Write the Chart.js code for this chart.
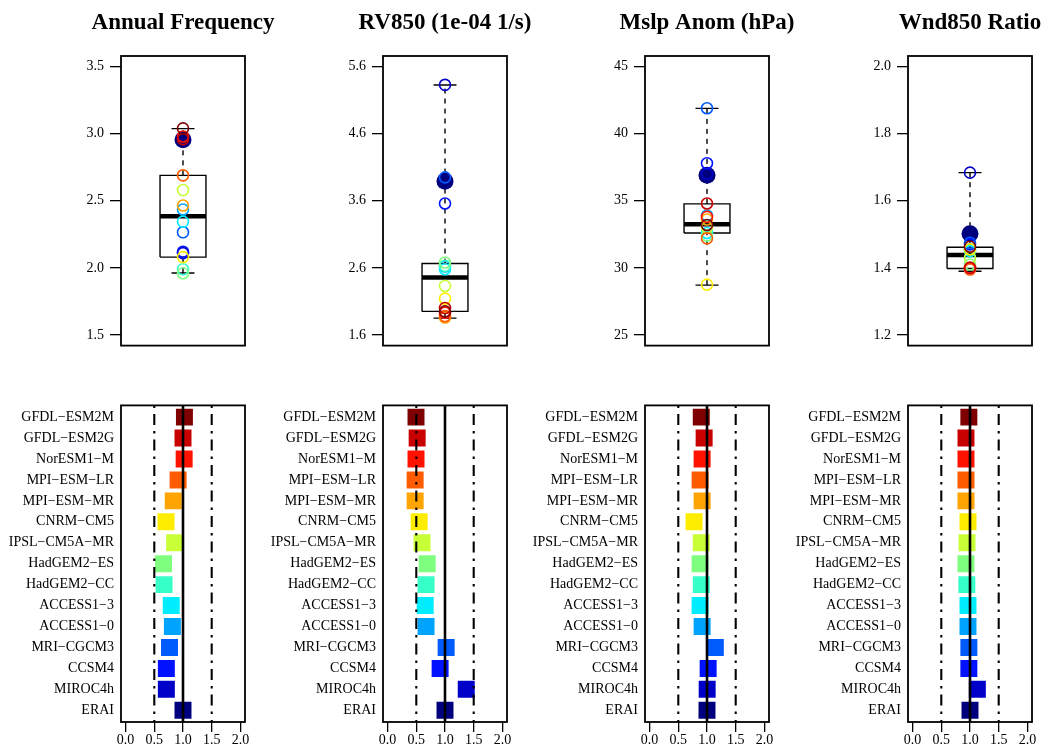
<!DOCTYPE html>
<html>
<head>
<meta charset="utf-8">
<script src="https://cdn.jsdelivr.net/npm/chart.js@4.4.1/dist/chart.umd.min.js"></script>
<style>
  html, body { margin: 0; padding: 0; background: #fff; }
  #wrap { position: relative; width: 1048px; height: 748px; overflow: hidden; background: #fff; }
  .cv { position: absolute; }
</style>
</head>
<body>
<div id="wrap"></div>
<script>
// ---------------- DATA ----------------
const modelNames = ["GFDL\u2212ESM2M", "GFDL\u2212ESM2G", "NorESM1\u2212M", "MPI\u2212ESM\u2212LR", "MPI\u2212ESM\u2212MR",
  "CNRM\u2212CM5", "IPSL\u2212CM5A\u2212MR", "HadGEM2\u2212ES", "HadGEM2\u2212CC", "ACCESS1\u22123", "ACCESS1\u22120",
  "MRI\u2212CGCM3", "CCSM4", "MIROC4h"];
const referenceName = "ERAI";
const modelColors = ["#7F0000", "#C80000", "#FF1200", "#FF5B00", "#FFA400", "#FFED00", "#C8FF36", "#7FFF7F",
  "#36FFC8", "#00EDFF", "#00A4FF", "#005BFF", "#0012FF", "#0000C8"];
const referenceColor = "#00007F";
const panelTitles = ["Annual Frequency", "RV850 (1e-04 1/s)", "Mslp Anom (hPa)", "Wnd850 Ratio"];

// Annual Frequency
const freqModel = [3.04, 2.96, 2.98, 2.69, 2.465, 2.08, 2.58, 1.96, 1.99, 2.345, 2.435, 2.265, 2.12, 2.11];
const freqERAI = 2.955;
const freqBox = [1.962, 2.08, 2.384, 2.69, 3.038];        // lower whisker, Q1, median, Q3, upper whisker
const freqTickLabels = ["1.5", "2.0", "2.5", "3.0", "3.5"];
const freqRatio = [1.025, 1.0, 1.02, 0.915, 0.83, 0.705, 0.855, 0.66, 0.67, 0.795, 0.815, 0.765, 0.71, 0.71, 1.0];

// RV850
const rvModel = [1.95, 2.0, 1.93, 1.88, 1.86, 2.14, 2.33, 2.68, 2.63, 2.58, 2.62, 3.95, 3.56, 5.33];
const rvERAI = 3.89;
const rvBox = [1.85, 1.95, 2.457, 2.664, 5.327];
const rvTickLabels = ["1.6", "2.6", "3.6", "4.6", "5.6"];
const rvRatio = [0.495, 0.515, 0.495, 0.48, 0.48, 0.55, 0.60, 0.69, 0.67, 0.655, 0.67, 1.02, 0.915, 1.37, 1.0];

// Mslp Anom
const mslpModel = [33.2, 34.8, 33.8, 32.2, 33.6, 28.75, 33.0, 32.4, 33.1, 32.6, 33.9, 41.9, 37.8, 37.0];
const mslpERAI = 36.9;
const mslpBox = [28.71, 32.6, 33.26, 34.77, 41.89];
const mslpTickLabels = ["25", "30", "35", "40", "45"];
const mslpRatio = [0.90, 0.95, 0.915, 0.88, 0.915, 0.775, 0.90, 0.88, 0.90, 0.88, 0.915, 1.145, 1.02, 1.003, 1.0];

// Wnd850 Ratio
const wndModel = [1.463, 1.40, 1.40, 1.395, 1.40, 1.455, 1.43, 1.41, 1.43, 1.45, 1.455, 1.475, 1.47, 1.684];
const wndERAI = 1.502;
const wndBox = [1.39, 1.398, 1.438, 1.4616, 1.684];
const wndTickLabels = ["1.2", "1.4", "1.6", "1.8", "2.0"];
const wndRatio = [0.98, 0.93, 0.93, 0.93, 0.93, 0.965, 0.948, 0.93, 0.945, 0.965, 0.965, 0.98, 0.98, 1.128, 1.0];

// Ratio panels
const ratioTickLabels = ["0.0", "0.5", "1.0", "1.5", "2.0"];
const refLines = [0.5, 1.0, 1.5];

// ---------------- LAYOUT / STYLE ----------------
const FONT = "'Liberation Serif', 'Times New Roman', serif";
const panelLefts = [121, 383, 645, 908];
const PANEL_W = 124;
const SIDE = 110;

const panels = [
  { model: freqModel, ref: freqERAI, box: freqBox, ticks: freqTickLabels, ratio: freqRatio },
  { model: rvModel, ref: rvERAI, box: rvBox, ticks: rvTickLabels, ratio: rvRatio },
  { model: mslpModel, ref: mslpERAI, box: mslpBox, ticks: mslpTickLabels, ratio: mslpRatio },
  { model: wndModel, ref: wndERAI, box: wndBox, ticks: wndTickLabels, ratio: wndRatio }
];

const framePlugin = {
  id: 'frame',
  afterDraw(chart) {
    const { ctx, chartArea: a } = chart;
    ctx.save();
    ctx.strokeStyle = '#000';
    ctx.lineWidth = 1.8;
    ctx.strokeRect(a.left, a.top, a.width, a.height);
    ctx.restore();
  }
};

function makeCanvas(left, top, w, h) {
  const d = document.createElement('div');
  d.className = 'cv';
  d.style.left = left + 'px'; d.style.top = top + 'px';
  d.style.width = w + 'px'; d.style.height = h + 'px';
  const c = document.createElement('canvas');
  c.width = w; c.height = h;
  c.style.width = w + 'px'; c.style.height = h + 'px';
  d.appendChild(c);
  document.getElementById('wrap').appendChild(d);
  return c;
}

function lineDS(points, width, dash, order) {
  return {
    type: 'line', data: points, borderColor: '#000', borderWidth: width, borderDash: dash || [],
    pointRadius: 0, fill: false, tension: 0, order: order, borderCapStyle: 'butt', borderJoinStyle: 'miter'
  };
}

function topChart(p) {
  const P = panels[p];
  const L = panelLefts[p];
  // canvas symmetric around the panel so that the full-width title is centred on it
  const canvas = makeCanvas(L - SIDE, 0, SIDE + PANEL_W + SIDE, 360);
  const tickVals = P.ticks.map(Number);
  const span = tickVals[tickVals.length - 1] - tickVals[0];
  const yMin = tickVals[0] - 0.04 * span, yMax = tickVals[tickVals.length - 1] + 0.04 * span;

  // circles: reference first, then models from last to first (first ones end up on top)
  const pts = [{ x: 1, y: P.ref }], bg = [referenceColor], bc = [referenceColor], rad = [8.5], bw = [0];
  for (let i = P.model.length - 1; i >= 0; i--) {
    pts.push({ x: 1, y: P.model[i] });
    bg.push('rgba(0,0,0,0)'); bc.push(modelColors[i]); rad.push(5.5); bw.push(1.6);
  }
  const [lo, q1, med, q3, hi] = P.box;
  const hw = 0.2, sw = 0.1;
  const datasets = [
    { type: 'scatter', data: pts, pointBackgroundColor: bg, pointBorderColor: bc, pointRadius: rad,
      pointBorderWidth: bw, order: 0 },
    lineDS([{ x: 1 - hw, y: med }, { x: 1 + hw, y: med }], 4.5, null, 1),
    lineDS([{ x: 1 - hw, y: q1 }, { x: 1 + hw, y: q1 }, { x: 1 + hw, y: q3 }, { x: 1 - hw, y: q3 }, { x: 1 - hw, y: q1 }], 1.4, null, 2),
    lineDS([{ x: 1, y: q3 }, { x: 1, y: hi }], 1.4, [5, 5], 3),
    lineDS([{ x: 1, y: lo }, { x: 1, y: q1 }], 1.4, [5, 5], 3),
    lineDS([{ x: 1 - sw, y: hi }, { x: 1 + sw, y: hi }], 1.4, null, 4),
    lineDS([{ x: 1 - sw, y: lo }, { x: 1 + sw, y: lo }], 1.4, null, 4)
  ];
  new Chart(canvas, {
    type: 'scatter',
    data: { datasets },
    options: {
      responsive: false, animation: false, events: [],
      layout: { padding: { left: 0, right: 0, top: 0, bottom: 4 } },
      plugins: {
        legend: { display: false }, tooltip: { enabled: false },
        title: { display: true, text: panelTitles[p], fullSize: true, color: '#000', align: 'center',
          font: { family: FONT, size: 23, weight: 'bold', lineHeight: 1.2 },
          padding: { top: 9, bottom: 19.4 } }
      },
      scales: {
        x: { type: 'linear', min: 0.46, max: 1.54, display: false },
        y: {
          type: 'linear', position: 'left', min: yMin, max: yMax,
          afterBuildTicks: s => { s.ticks = tickVals.map(v => ({ value: v })); },
          afterFit: s => { s.width = SIDE; },
          ticks: { autoSkip: false, color: '#000', padding: 6, font: { family: FONT, size: 14 },
            callback: v => { const i = tickVals.findIndex(t => Math.abs(t - v) < 1e-9); return i >= 0 ? P.ticks[i] : ''; } },
          grid: { drawOnChartArea: false, drawTicks: true, tickLength: 11, color: '#000', lineWidth: 1.3 },
          border: { display: false }
        },
        // empty spacer on the right, keeps the panel centred under its title
        ySpacer: {
          type: 'linear', position: 'right', min: yMin, max: yMax,
          afterFit: s => { s.width = SIDE; },
          ticks: { display: false }, grid: { display: false, drawTicks: false }, border: { display: false }
        }
      }
    },
    plugins: [framePlugin]
  });
}

function bottomChart(p) {
  const P = panels[p];
  const L = panelLefts[p];
  const canvas = makeCanvas(L - 121, 390, 121 + PANEL_W + 16, 358);
  const rowNames = modelNames.concat([referenceName]);
  const rowColors = modelColors.concat([referenceColor]);
  const xTickVals = ratioTickLabels.map(Number);
  const xSpan = xTickVals[xTickVals.length - 1] - xTickVals[0];
  const xMin = xTickVals[0] - 0.04 * xSpan, xMax = xTickVals[xTickVals.length - 1] + 0.04 * xSpan;
  const yMin = 1 - 0.04 * (rowNames.length - 1), yMax = rowNames.length + 0.04 * (rowNames.length - 1);

  const datasets = [];
  refLines.forEach((v, k) => {
    const solid = Math.abs(v - 1) < 1e-9;
    datasets.push(lineDS([{ x: v, y: yMin }, { x: v, y: yMax }], solid ? 2.6 : 2.1, solid ? null : [2.5, 6, 11, 6], k));
  });
  datasets.push({
    type: 'scatter', data: P.ratio.map((r, i) => ({ x: r, y: i + 1 })),
    pointStyle: 'rect', pointRadius: 12, pointBackgroundColor: rowColors, pointBorderWidth: 0,
    pointBorderColor: rowColors, order: 10
  });

  new Chart(canvas, {
    type: 'scatter',
    data: { datasets },
    options: {
      responsive: false, animation: false, events: [],
      layout: { padding: { left: 0, right: 16, top: 10, bottom: 0 } },
      plugins: { legend: { display: false }, tooltip: { enabled: false }, title: { display: false } },
      scales: {
        x: {
          type: 'linear', min: xMin, max: xMax,
          afterBuildTicks: s => { s.ticks = xTickVals.map(v => ({ value: v })); },
          afterFit: s => { s.height = 26; },
          ticks: { autoSkip: false, maxRotation: 0, color: '#000', padding: 0, font: { family: FONT, size: 14 },
            callback: v => { const i = xTickVals.findIndex(t => Math.abs(t - v) < 1e-9); return i >= 0 ? ratioTickLabels[i] : ''; } },
          grid: { drawOnChartArea: false, drawTicks: true, tickLength: 10, color: '#000', lineWidth: 1.3 },
          border: { display: false }
        },
        y: {
          type: 'linear', reverse: true, min: yMin, max: yMax,
          afterBuildTicks: s => { s.ticks = rowNames.map((n, i) => ({ value: i + 1 })); },
          afterFit: s => { s.width = 121; },
          ticks: { autoSkip: false, color: '#000', padding: 7, font: { family: FONT, size: 14 },
            callback: v => rowNames[Math.round(v) - 1] },
          grid: { display: false, drawTicks: false, tickLength: 0 },
          border: { display: false }
        }
      }
    },
    plugins: [framePlugin]
  });
}

function drawAll() { for (let p = 0; p < 4; p++) { topChart(p); bottomChart(p); } }

let drawn = false;
function go() { if (drawn) return; drawn = true; drawAll(); }
if (document.fonts && document.fonts.load) {
  Promise.all([
    document.fonts.load("bold 23px 'Liberation Serif'"),
    document.fonts.load("14px 'Liberation Serif'")
  ]).then(go, go);
  setTimeout(go, 1500);
} else {
  go();
}
</script>
</body>
</html>
